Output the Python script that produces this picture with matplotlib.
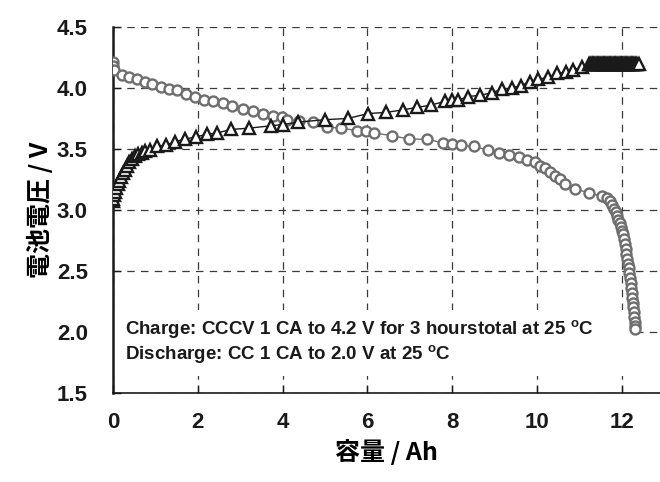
import matplotlib
matplotlib.use("Agg")
import matplotlib.pyplot as plt
from matplotlib.patches import Rectangle

plt.rcParams['font.family'] = ['Liberation Sans', 'Noto Sans CJK JP', 'DejaVu Sans']
plt.rcParams['mathtext.fontset'] = 'custom'
plt.rcParams['mathtext.rm'] = 'Liberation Sans:bold'
plt.rcParams['mathtext.default'] = 'rm'

# Charge curve (CCCV): capacity [Ah] and cell voltage [V]
charge_cap = [0.00, 0.01, 0.03, 0.05, 0.08, 0.11, 0.15, 0.19, 0.23, 0.28, 0.33, 0.39,
              0.45, 0.52, 0.60, 0.68, 0.75, 0.87, 1.03, 1.25, 1.46, 1.70, 1.97, 2.21,
              2.45, 2.78, 3.20, 3.73, 4.00, 4.37, 5.00, 5.55, 6.01, 6.45, 6.83, 7.16,
              7.50, 7.83, 8.00, 8.14, 8.38, 8.66, 8.93, 9.17, 9.40, 9.62, 9.83, 10.03,
              10.27, 10.48, 10.68, 10.86, 11.05, 11.23,
              11.25, 11.27, 11.29, 11.31, 11.33, 11.35, 11.37, 11.39, 11.41, 11.43,
              11.45, 11.47, 11.49, 11.51, 11.53, 11.55, 11.57, 11.59, 11.61, 11.63,
              11.65, 11.67, 11.69, 11.71, 11.73, 11.75, 11.77, 11.79, 11.81, 11.83,
              11.85, 11.87, 11.89, 11.91, 11.93, 11.95, 11.97, 11.99, 12.01, 12.03,
              12.05, 12.07, 12.09, 12.11, 12.13, 12.15, 12.17, 12.19, 12.21, 12.23,
              12.25, 12.27, 12.29, 12.31, 12.33, 12.35, 12.41]
charge_v = [3.07, 3.09, 3.12, 3.15, 3.18, 3.21, 3.24, 3.27, 3.30, 3.33, 3.36, 3.39,
            3.42, 3.44, 3.46, 3.47, 3.48, 3.49, 3.52, 3.53, 3.56, 3.58, 3.60, 3.62,
            3.63, 3.66, 3.67, 3.69, 3.70, 3.72, 3.74, 3.75, 3.79, 3.80, 3.82, 3.84,
            3.86, 3.89, 3.90, 3.90, 3.93, 3.94, 3.96, 3.99, 4.00, 4.02, 4.05, 4.07,
            4.09, 4.12, 4.13, 4.15, 4.17, 4.20,
            4.20, 4.20, 4.20, 4.20, 4.20, 4.20, 4.20, 4.20, 4.20, 4.20,
            4.20, 4.20, 4.20, 4.20, 4.20, 4.20, 4.20, 4.20, 4.20, 4.20,
            4.20, 4.20, 4.20, 4.20, 4.20, 4.20, 4.20, 4.20, 4.20, 4.20,
            4.20, 4.20, 4.20, 4.20, 4.20, 4.20, 4.20, 4.20, 4.20, 4.20,
            4.20, 4.20, 4.20, 4.20, 4.20, 4.20, 4.20, 4.20, 4.20, 4.20,
            4.20, 4.20, 4.20, 4.20, 4.20, 4.20, 4.20]

# Discharge curve (CC): capacity [Ah] and cell voltage [V]
discharge_cap = [0.00, 0.00, 0.02, 0.22, 0.38, 0.56, 0.75, 0.93, 1.13, 1.32, 1.52, 1.72,
                 1.94, 2.15, 2.35, 2.59, 2.82, 3.06, 3.31, 3.54, 3.78, 3.98, 4.10, 4.39,
                 4.72, 5.06, 5.39, 5.76, 5.98, 6.16, 6.57, 6.99, 7.40, 7.78, 7.99, 8.20,
                 8.52, 8.85, 9.10, 9.35, 9.58, 9.77, 9.95, 10.07, 10.19, 10.31, 10.42,
                 10.54, 10.66, 10.90, 11.23, 11.53, 11.65, 11.72, 11.77, 11.82, 11.86,
                 11.89, 11.92, 11.95, 11.98, 12.01, 12.03, 12.05, 12.07, 12.09, 12.11,
                 12.13, 12.14, 12.16, 12.18, 12.19, 12.21, 12.22, 12.23, 12.25, 12.26,
                 12.27, 12.28, 12.29, 12.30, 12.31, 12.31]
discharge_v = [4.21, 4.18, 4.15, 4.11, 4.09, 4.07, 4.05, 4.03, 4.01, 3.99, 3.98, 3.95,
               3.93, 3.90, 3.89, 3.88, 3.85, 3.83, 3.81, 3.79, 3.77, 3.76, 3.74, 3.73,
               3.72, 3.68, 3.67, 3.65, 3.65, 3.63, 3.61, 3.58, 3.58, 3.55, 3.54, 3.53,
               3.52, 3.49, 3.47, 3.45, 3.43, 3.41, 3.39, 3.36, 3.34, 3.31, 3.28,
               3.25, 3.21, 3.17, 3.14, 3.11, 3.10, 3.07, 3.04, 3.01, 2.98,
               2.95, 2.92, 2.89, 2.86, 2.83, 2.80, 2.76, 2.72, 2.68, 2.64,
               2.60, 2.56, 2.52, 2.48, 2.44, 2.40, 2.36, 2.32, 2.28, 2.24,
               2.20, 2.16, 2.12, 2.08, 2.05, 2.02]

x_ticks = [0, 2, 4, 6, 8, 10, 12]
y_ticks = [1.5, 2.0, 2.5, 3.0, 3.5, 4.0, 4.5]
y_ticklabels = ['1.5', '2.0', '2.5', '3.0', '3.5', '4.0', '4.5']

charge_note = r'Charge: CCCV 1 CA to 4.2 V for 3 hourstotal at 25 $^{\mathregular{o}}$C'
discharge_note = r'Discharge: CC 1 CA to 2.0 V at 25 $^{\mathregular{o}}$C'

fig = plt.figure(figsize=(6.6, 4.82), dpi=100)
ax = fig.add_axes([0.171, 0.185, 0.829, 0.759])

# white panel behind the test-condition notes (hides the grid there)
ax.add_patch(Rectangle((0.03, 1.64), 12.27, 0.54, facecolor='white',
                       edgecolor='none', zorder=1))

ax.plot(discharge_cap, discharge_v, color='#6e6e6e', lw=1.0, marker='o', ms=7.2,
        mfc='white', mec='#6e6e6e', mew=1.7, zorder=3)
ax.plot(charge_cap, charge_v, color='#1a1a1a', lw=1.0, marker='^', ms=8.2,
        mfc='white', mec='#1a1a1a', mew=1.7, zorder=4)

ax.set_xlim(0, 12.9)
ax.set_ylim(1.5, 4.5)
ax.set_xticks(x_ticks)
ax.set_yticks(y_ticks)
ax.set_yticklabels(y_ticklabels)

ax.grid(True, color='#3a3a3a', lw=0.9, linestyle=(0, (6, 5)))
ax.set_axisbelow(True)

for side in ('top', 'right'):
    ax.spines[side].set_visible(False)
ax.spines['left'].set_linewidth(1.8)
ax.spines['bottom'].set_linewidth(1.2)
ax.spines['left'].set_color('#1a1a1a')
ax.spines['bottom'].set_color('#1a1a1a')

ax.tick_params(axis='both', direction='in', length=6, width=1.0, colors='#1a1a1a',
               labelsize=16)
ax.tick_params(axis='y', pad=18)
ax.tick_params(axis='x', pad=14)
for lab in ax.get_xticklabels() + ax.get_yticklabels():
    lab.set_fontweight('bold')

ax.set_xlabel('容量 / Ah', fontsize=18, fontweight='bold', labelpad=4,
              family=['Noto Sans CJK JP', 'Liberation Sans'])
ax.set_ylabel('電池電圧 / V', fontsize=18, fontweight='bold', labelpad=3,
              family=['Noto Sans CJK JP', 'Liberation Sans'])

ax.text(0.28, 2.02, charge_note, fontsize=13.5, fontweight='bold', va='center',
        ha='left', color='#1a1a1a', zorder=5)
ax.text(0.28, 1.82, discharge_note, fontsize=13.5, fontweight='bold', va='center',
        ha='left', color='#1a1a1a', zorder=5)

fig.savefig('out.png', dpi=100)
